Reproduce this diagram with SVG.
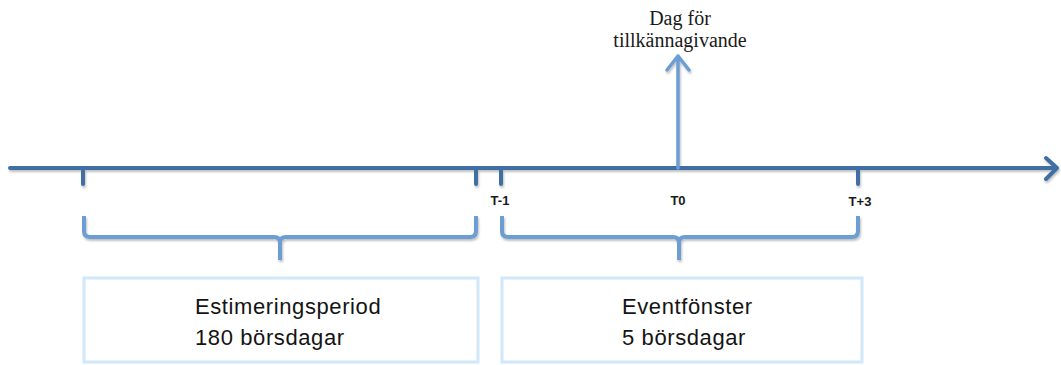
<svg xmlns="http://www.w3.org/2000/svg" width="1061" height="365" viewBox="0 0 1061 365">
<defs>
<style>
.axis{stroke:#3f6fa3;stroke-width:4;fill:none;stroke-linecap:round;stroke-linejoin:round}
.brace{stroke:#6c9dd3;stroke-width:4;fill:none;stroke-linejoin:round;stroke-linecap:butt}
.up{stroke:#6c9dd3;stroke-width:3.5;fill:none;stroke-linecap:round;stroke-linejoin:round}
.box{fill:#ffffff;stroke:#d0e8fa;stroke-width:3}
.tick{font-family:"Liberation Sans",Arial,sans-serif;font-weight:bold;font-size:13px;fill:#1a1a1a;text-anchor:middle}
.lbl{font-family:"Liberation Serif","Times New Roman",serif;font-size:20px;fill:#1a1a1a;text-anchor:middle}
.box-t{font-family:"Liberation Sans",Arial,sans-serif;font-size:22px;fill:#141414;letter-spacing:0.6px}
</style>
<filter id="sh" x="-5%" y="-20%" width="110%" height="160%">
<feDropShadow dx="1" dy="2" stdDeviation="1.2" flood-color="#000" flood-opacity="0.25"/>
</filter>
</defs>
<g id="connectors" filter="url(#sh)">
<path class="axis" d="M10 168 H1057 M1046 158 L1057 168 L1046 179"/>
<path class="axis" d="M83 168 V184 M476 168 V184 M501 168 V184 M858 168 V184"/>
<path class="up" d="M678 168 V56 M667 70 L678 56 L689 70"/>
<path class="brace" d="M84 216 V231 Q84 237 90 237 H274 Q280 237 280 243 V260 M280 243 Q280 237 286 237 H470 Q476 237 476 231 V216"/>
<path class="brace" d="M502 216 V231 Q502 237 508 237 H673 Q679 237 679 243 V260 M679 243 Q679 237 685 237 H852 Q858 237 858 231 V216"/>
</g>
<g id="tick-labels">
<text class="tick" x="500" y="205">T-1</text>
<text class="tick" x="678" y="205">T0</text>
<text class="tick" x="860" y="206">T+3</text>
</g>
<g id="announcement">
<text class="lbl" x="680" y="25">Dag för</text>
<text class="lbl" x="680" y="47">tillkännagivande</text>
</g>
<g id="estimation">
<rect class="box" x="84" y="278" width="394" height="84"/>
<text class="box-t" x="195" y="314">Estimeringsperiod</text>
<text class="box-t" x="195" y="345">180 börsdagar</text>
</g>
<g id="event">
<rect class="box" x="502" y="278" width="360" height="84"/>
<text class="box-t" x="622" y="314">Eventfönster</text>
<text class="box-t" x="622" y="345">5 börsdagar</text>
</g>
</svg>
